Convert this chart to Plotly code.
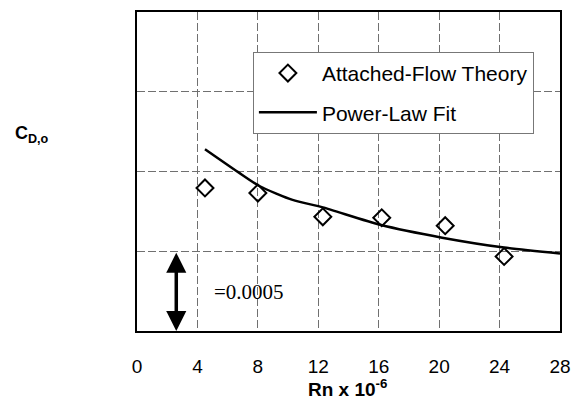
import plotly.graph_objects as go

# Attached-flow theory points: Reynolds number (x 10^-6) and zero-lift drag coefficient
rn_theory = [4.5, 8.0, 12.3, 16.2, 20.4, 24.3]
cd_theory = [0.000897, 0.000865, 0.000716, 0.000710, 0.000660, 0.000467]

# Power-law fit curve
rn_fit = [4.5, 6.7, 8.1, 10.3, 12.3, 16.1, 20.2, 24.3, 28.0]
cd_fit = [0.00114, 0.000996, 0.000909, 0.000822, 0.000775, 0.000666, 0.000585, 0.000523, 0.000486]

x_ticks = [0, 4, 8, 12, 16, 20, 24, 28]
scale_bar = 0.0005
scale_bar_x = 2.6

font_sans = "Liberation Sans, Arial, sans-serif"
font_serif = "Liberation Serif, Times New Roman, serif"

fig = go.Figure()

fig.add_trace(go.Scatter(
    x=rn_theory, y=cd_theory, mode="markers", name="Attached-Flow Theory",
    legendgroup="a",
    marker=dict(symbol="diamond-open", size=13, color="black", line=dict(width=2, color="black")),
))
fig.add_trace(go.Scatter(
    x=rn_fit, y=cd_fit, mode="lines", name="Power-Law Fit",
    legendgroup="b",
    line=dict(color="black", width=2.5, shape="spline", smoothing=0.6),
))

grid_style = dict(showgrid=True, gridcolor="#707070", gridwidth=1, griddash="8px,3px",
                  showline=True, linecolor="black", linewidth=1.5, mirror=True, zeroline=False)

fig.update_xaxes(
    range=[0, 28], tickmode="array", tickvals=x_ticks, ticktext=[str(v) for v in x_ticks],
    ticks="outside", ticklen=17, tickcolor="rgba(0,0,0,0)",
    tickfont=dict(family=font_sans, size=19, color="black"),
    **grid_style,
)
fig.update_yaxes(
    range=[0, 0.002], dtick=scale_bar, showticklabels=False, ticks="",
    **grid_style,
)

# Double-headed scale bar for one grid division
fig.add_annotation(
    x=scale_bar_x, y=0, ax=scale_bar_x, ay=scale_bar, xref="x", yref="y", axref="x", ayref="y",
    text="", showarrow=True, arrowside="end+start", arrowhead=2, arrowsize=1.15,
    arrowwidth=3.5, arrowcolor="black",
)
fig.add_annotation(
    x=4.95, y=scale_bar * 0.485, xref="x", yref="y", xanchor="left", yanchor="middle",
    text="=" + f"{scale_bar:.4f}", showarrow=False,
    font=dict(family=font_serif, size=21, color="black"),
)

# Axis labels
fig.add_annotation(
    x=0.498, y=-0.18, xref="paper", yref="paper", xanchor="center", yanchor="middle",
    text="<b>Rn x 10<sup>-6</sup></b>", showarrow=False,
    font=dict(family=font_sans, size=19, color="black"),
)
fig.add_annotation(
    x=-0.293, y=0.617, xref="paper", yref="paper", xanchor="left", yanchor="middle",
    text="<b>C<sub>D,o</sub></b>", showarrow=False,
    font=dict(family=font_sans, size=18, color="black"),
)

fig.update_layout(
    width=581, height=406,
    margin=dict(l=137, r=20, t=10, b=75),
    paper_bgcolor="white", plot_bgcolor="white",
    showlegend=True,
    legend=dict(
        x=0.274, y=0.875, xanchor="left", yanchor="top",
        bgcolor="white", bordercolor="#777777", borderwidth=1,
        font=dict(family=font_sans, size=21, color="black"),
        tracegroupgap=9, itemwidth=58,
    ),
)

fig.write_html("out.html")
